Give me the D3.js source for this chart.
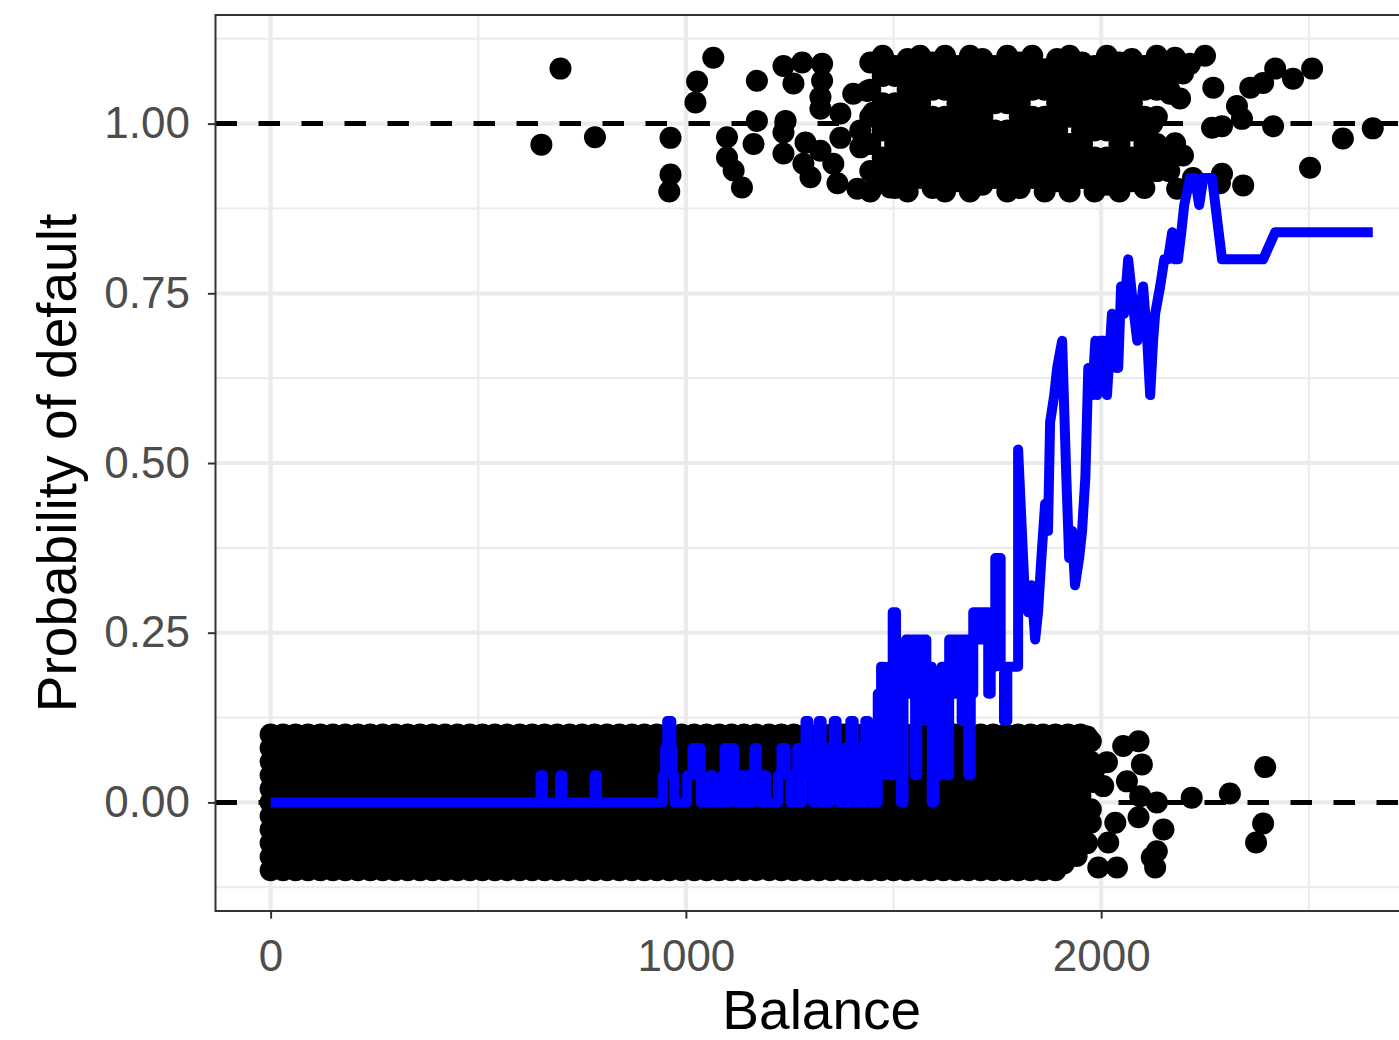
<!DOCTYPE html>
<html><head><meta charset="utf-8">
<script src="https://cdn.jsdelivr.net/npm/d3@7"></script>
<style>body{margin:0;background:#fff}svg{display:block}</style>
</head><body>
<svg id="chart" width="1399" height="1040"></svg>
<script>
// ---------------- DATA ----------------
const xTicks = [0, 1000, 2000];
const xMinorTicks = [500, 1500, 2500];
const yTicks = [0, 0.25, 0.5, 0.75, 1];
const yTickLabels = ["0.00", "0.25", "0.50", "0.75", "1.00"];
const yMinorTicks = [-0.125, 0.125, 0.375, 0.625, 0.875, 1.125];
const refLines = [0, 1];
const xTitle = "Balance";
const yTitle = "Probability of default";

// dense cloud of non-defaulters (balance columns x jitter rows)
const noBalanceCols = [0,30,60,90,120,150,180,210,240,270,300,330,360,390,420,450,480,510,540,570,600,630,660,690,720,750,780,810,840,870,900,930,960,990,1020,1050,1080,1110,1140,1170,1200,1230,1260,1290,1320,1350,1380,1410,1440,1470,1500,1530,1560,1590,1620,1650,1680,1710,1740,1770,1800,1830,1860,1890];
const noJitterRows = [-0.1,-0.08,-0.06,-0.04,-0.02,0,0.02,0.04,0.06,0.08,0.1];
// non-defaulters at the ragged high-balance edge [balance, jittered y]
const noSparse = [[1920,0.1],[1920,0.08],[1920,0.06],[1920,0.04],[1920,0.02],[1920,0],[1920,-0.02],[1920,-0.04],[1920,-0.06],
  [1950,0.1],[1950,0.07],[1950,0.05],[1950,0.03],[1950,0.01],[1950,-0.01],[1950,-0.03],[1950,-0.05],
  [1975,0.09],[1975,0.06],[1980,0.03],[1975,-0.01],[1975,-0.03],[1966,-0.06],[1941,-0.079],[1910,-0.09],
  [1966,0.097],[1985,0.05],[1993,-0.096],[2005,0.024],[2014,0.059],[2017,-0.059],[2034,-0.03],[2038,-0.096],[2053,0.083],[2062,0.031],[2090,0.09],[2098,0.056],[2094,0.009],[2090,-0.022],[2134,0.0],[2150,-0.04],[2134,-0.072],[2122,-0.081],[2130,-0.096],[2218,0.007],[2310,0.013],[2395,0.052],[2390,-0.031],[2373,-0.059]];

// defaulters: dense core (balance column, list of jittered y)
const yesCore = [
  [1444,[1.09,1.05,1.01,0.97,0.93,0.9]],
  [1474,[1.1,1.07,1.03,1.01,0.99,0.95,0.93,0.915]],
  [1504,[1.085,1.07,1.03,1.01,0.99,0.97,0.95,0.93,0.905]],
  [1534,[1.095,1.07,1.05,1.03,1.01,0.99,0.97,0.95,0.93,0.9]],
  [1564,[1.1,1.07,1.05,1.03,1.01,0.99,0.97,0.95,0.93,0.92]],
  [1594,[1.09,1.07,1.05,1.01,0.99,0.97,0.95,0.93,0.905]],
  [1624,[1.1,1.07,1.05,1.01,0.99,0.97,0.95,0.93,0.9]],
  [1654,[1.085,1.07,1.05,1.03,1.01,0.99,0.97,0.95,0.93,0.915]],
  [1684,[1.1,1.07,1.05,1.03,1.01,0.99,0.97,0.95,0.93,0.9]],
  [1714,[1.095,1.07,1.05,1.03,1.01,0.99,0.97,0.95,0.93,0.91]],
  [1744,[1.085,1.07,1.05,1.03,0.99,0.97,0.95,0.93,0.92]],
  [1774,[1.1,1.07,1.05,1.03,0.99,0.97,0.95,0.93,0.9]],
  [1804,[1.09,1.07,1.05,1.03,1.01,0.99,0.97,0.95,0.93,0.905]],
  [1834,[1.1,1.07,1.05,1.01,0.99,0.97,0.95,0.93,0.92]],
  [1864,[1.08,1.07,1.05,1.01,0.99,0.97,0.95,0.93,0.9]],
  [1894,[1.095,1.07,1.05,1.03,1.01,0.99,0.97,0.95,0.93,0.915]],
  [1924,[1.1,1.07,1.05,1.03,1.01,0.97,0.95,0.93,0.9]],
  [1954,[1.09,1.07,1.05,1.03,1.01,0.99,0.97,0.95,0.93,0.92]],
  [1984,[1.085,1.07,1.05,1.03,1.01,0.99,0.95,0.93,0.9]],
  [2014,[1.1,1.07,1.05,1.03,1.01,0.99,0.95,0.93,0.91]],
  [2044,[1.09,1.07,1.05,1.03,1.01,0.99,0.97,0.95,0.93,0.9]],
  [2074,[1.095,1.07,1.05,1.03,1.01,0.99,0.95,0.93,0.915]],
  [2104,[1.085,1.07,1.05,1.01,0.99,0.97,0.95,0.93,0.905]],
  [2134,[1.1,1.07,1.05,1.01,0.97,0.95,0.93]],
  [2164,[1.09,1.07,1.05,0.95,0.93]]
];
// defaulters: sparse points [balance, jittered y]
const yesSparse = [[652,0.969],[698,1.081],[781,0.980],[963,0.979],[963,0.925],[960,0.9],[1023,1.031],[1027,1.062],[1066,1.097],[1099,0.98],[1099,0.95],[1115,0.931],[1135,0.906],[1163,0.97],[1171,1.004],[1171,1.063],[1235,1.085],[1259,1.059],[1280,1.09],[1240,1.004],[1235,0.987],[1235,0.956],[1288,0.972],[1283,0.941],[1300,0.921],[1324,0.96],[1328,1.088],[1328,1.063],[1324,1.039],[1324,1.022],[1355,0.941],[1365,0.912],[1372,1.015],[1372,0.979],[1403,1.044],[1413,0.904],[1420,0.965],[1420,0.99],[1437,1.048],[1451,1.016],[1475,1.097],[1485,0.935],[1492,0.906],
  [2178,1.097],[2214,1.088],[2250,1.1],[2149,1.074],[2197,1.074],[2166,1.044],[2190,1.037],[2123,1.0],[2149,0.957],[2197,0.953],[2178,0.971],[2135,0.941],[2183,0.904],[2221,0.92],[2291,0.926],[2342,0.909],[2286,0.912],[2270,1.053],[2267,0.994],[2291,0.996],[2327,1.026],[2339,1.007],[2359,1.053],[2390,1.06],[2414,0.996],[2419,1.081],[2462,1.066],[2503,0.935],[2508,1.081],[2582,0.978],[2654,0.993]];

// fitted probability: dense low-balance part, value changes at each listed balance [balance, prob]
const fitSteps = [[0,0],[650,0.04],[656,0],[697,0.04],[703,0],[780,0.04],[786,0],
  [945,0.04],[950,0.08],[955,0.12],[965,0.08],[968,0.04],[972,0],
  [1003,0.04],[1016,0.08],[1036,0],[1058,0.04],[1064,0],
  [1088,0.04],[1093,0.08],[1098,0],[1103,0.04],[1110,0.08],[1116,0.04],[1122,0],[1128,0.04],[1140,0],[1146,0.04],[1156,0],[1162,0.04],[1165,0.08],[1171,0.04],[1182,0],[1186,0.04],[1193,0],
  [1222,0.04],[1230,0.08],[1240,0.04],[1252,0],
  [1264,0.04],[1268,0.08],[1274,0],[1280,0.08],[1288,0.12],[1295,0.04],[1300,0.08],[1306,0],[1312,0.08],[1320,0.12],[1327,0],
  [1334,0.08],[1341,0],[1347,0.08],[1356,0.12],[1363,0.04],[1369,0],[1375,0.08],[1382,0.04],[1388,0],[1396,0.12],[1404,0.08],[1410,0],[1416,0.08],[1424,0],[1432,0.12],[1439,0.04],[1445,0],[1451,0.08],[1456,0],
  [1462,0.16],[1470,0.2],[1475,0.04],[1480,0.16],[1486,0.2],[1491,0.04],[1498,0.28],[1506,0.12],[1512,0.2],[1518,0],[1524,0.2],[1530,0.24],[1538,0.16],[1544,0.24],[1552,0.04],[1557,0.24],[1566,0.2],[1572,0.24],[1579,0.12],[1586,0.2],[1592,0],[1598,0.12],[1604,0.16],[1611,0.04],[1616,0.2],[1628,0.04],[1634,0.24],[1646,0.16],[1652,0.24],[1664,0.12],[1668,0.24],[1680,0.04],[1686,0.16],[1692,0.28],[1708,0.24],[1714,0.28],[1728,0.16],[1734,0.2],[1745,0.36],[1758,0.2],[1766,0.12],[1774,0.2],[1800,0.52]];
// fitted probability: sparser high-balance part, joined point to point [balance, prob]
const fitPoints = [[1815,0.32],[1824,0.28],[1832,0.32],[1841,0.24],[1848,0.28],[1856,0.36],[1865,0.44],[1872,0.4],[1877,0.56],[1887,0.6],[1894,0.64],[1906,0.68],[1916,0.48],[1923,0.36],[1930,0.4],[1937,0.32],[1947,0.36],[1954,0.4],[1962,0.48],[1969,0.64],[1978,0.6],[1986,0.68],[1990,0.6],[1998,0.68],[2007,0.68],[2014,0.6],[2026,0.72],[2036,0.64],[2041,0.64],[2048,0.76],[2055,0.72],[2065,0.8],[2072,0.76],[2079,0.72],[2087,0.68],[2094,0.72],[2101,0.76],[2111,0.68],[2118,0.6],[2125,0.68],[2130,0.72],[2142,0.76],[2152,0.8],[2161,0.8],[2171,0.84],[2178,0.8],[2185,0.8],[2193,0.84],[2200,0.88],[2214,0.92],[2226,0.92],[2236,0.88],[2246,0.92],[2267,0.92],[2291,0.8],[2390,0.8],[2419,0.84],[2654,0.84]];

// ---------------- CHART ----------------
const FONT = "'Liberation Sans', Arial, Helvetica, sans-serif";
const svg = d3.select("#chart");
const P = {left: 215.5, top: 15, right: 1428, bottom: 911};
const x = d3.scaleLinear().domain([-132.7, 2787]).range([P.left, P.right]);
const y = d3.scaleLinear().domain([-0.16, 1.16]).range([P.bottom, P.top]);

svg.append("rect").attr("width", 1399).attr("height", 1040).attr("fill", "#fff");
svg.append("defs").append("clipPath").attr("id", "clip").append("rect")
  .attr("x", P.left).attr("y", P.top).attr("width", P.right - P.left).attr("height", P.bottom - P.top);

const plot = svg.append("g").attr("clip-path", "url(#clip)");

// grid
plot.selectAll(".gxm").data(xMinorTicks).join("line")
  .attr("x1", d => x(d)).attr("x2", d => x(d)).attr("y1", P.top).attr("y2", P.bottom)
  .attr("stroke", "#EBEBEB").attr("stroke-width", 2.1);
plot.selectAll(".gym").data(yMinorTicks).join("line")
  .attr("y1", d => y(d)).attr("y2", d => y(d)).attr("x1", P.left).attr("x2", P.right)
  .attr("stroke", "#EBEBEB").attr("stroke-width", 2.1);
plot.selectAll(".gx").data(xTicks).join("line")
  .attr("x1", d => x(d)).attr("x2", d => x(d)).attr("y1", P.top).attr("y2", P.bottom)
  .attr("stroke", "#EBEBEB").attr("stroke-width", 4.2);
plot.selectAll(".gy").data(yTicks).join("line")
  .attr("y1", d => y(d)).attr("y2", d => y(d)).attr("x1", P.left).attr("x2", P.right)
  .attr("stroke", "#EBEBEB").attr("stroke-width", 4.2);

// reference dashed lines
plot.selectAll(".ref").data(refLines).join("line")
  .attr("x1", P.left).attr("x2", P.right).attr("y1", d => y(d)).attr("y2", d => y(d))
  .attr("stroke", "#000").attr("stroke-width", 5).attr("stroke-dasharray", "21.5,21.5");

// points
const R = 11;
const noDense = noBalanceCols.flatMap(b => noJitterRows.map(j => [b, j]));
const yesDense = yesCore.flatMap(([b, js]) => js.map(j => [b, j]));
const allPts = noDense.concat(noSparse, yesDense, yesSparse);
plot.append("g").selectAll("circle").data(allPts).join("circle")
  .attr("cx", d => x(d[0])).attr("cy", d => y(d[1])).attr("r", R).attr("fill", "#000");

// fitted line: vertical jumps in the dense part, then straight joins
const lineData = [];
fitSteps.forEach((s, i) => {
  if (i > 0) lineData.push([s[0], fitSteps[i - 1][1]]);
  lineData.push(s);
});
fitPoints.forEach(p => lineData.push(p));
plot.append("path").datum(lineData)
  .attr("d", d3.line().x(d => x(d[0])).y(d => y(d[1])))
  .attr("fill", "none").attr("stroke", "#0000FF").attr("stroke-width", 10)
  .attr("stroke-linejoin", "round").attr("stroke-linecap", "butt");

// panel border
svg.append("rect").attr("x", P.left).attr("y", P.top)
  .attr("width", P.right - P.left).attr("height", P.bottom - P.top)
  .attr("fill", "none").attr("stroke", "#333333").attr("stroke-width", 2);

// axes
const xAxis = svg.append("g").attr("transform", `translate(0,${P.bottom})`)
  .call(d3.axisBottom(x).tickValues(xTicks).tickFormat(d3.format("d")).tickSize(7.6).tickPadding(21));
const yAxis = svg.append("g").attr("transform", `translate(${P.left},0)`)
  .call(d3.axisLeft(y).tickValues(yTicks).tickFormat((d, i) => yTickLabels[i]).tickSize(7.6).tickPadding(18));
[xAxis, yAxis].forEach(a => {
  a.select(".domain").remove();
  a.selectAll(".tick line").attr("stroke", "#333333").attr("stroke-width", 2);
  a.selectAll(".tick text").attr("fill", "#4D4D4D").style("font-family", FONT).style("font-size", "44px");
});

// titles
svg.append("text").attr("x", (P.left + P.right) / 2).attr("y", 1029)
  .attr("text-anchor", "middle").style("font-family", FONT).style("font-size", "55px").attr("fill", "#000")
  .text(xTitle);
svg.append("text").attr("transform", `translate(76,${(P.top + P.bottom) / 2}) rotate(-90)`)
  .attr("text-anchor", "middle").style("font-family", FONT).style("font-size", "55px").attr("fill", "#000")
  .text(yTitle);
</script>
</body></html>
